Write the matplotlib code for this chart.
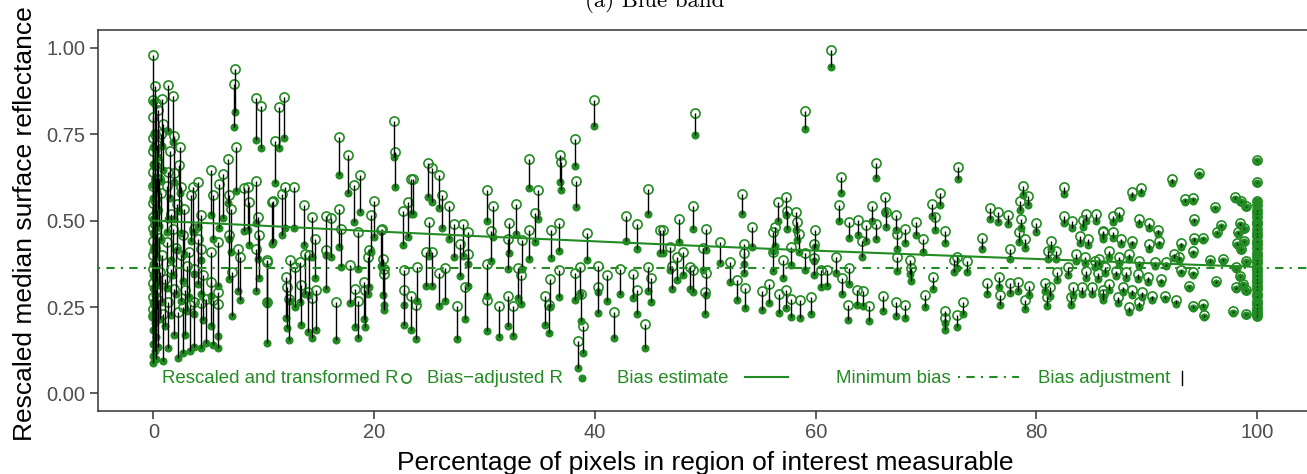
import matplotlib
matplotlib.use("Agg")
import matplotlib.pyplot as plt
import numpy as np

plt.rcParams['font.family'] = ['Liberation Sans', 'DejaVu Sans']

# ---------------- data ----------------
# x: percentage of pixels in ROI measurable
# res: rescaled and transformed R (open circles)
# adj: bias-adjusted R (filled circles)
pct_a = [0.0, 0.1, 0.0, 0.2, 0.0, 0.1, 0.0, 0.3, 0.0, 0.1,
         0.0, 0.2, 0.0, 0.1, 0.0, 0.3, 0.0, 0.1, 0.0, 0.2,
         0.0, 0.1, 0.0, 0.3, 0.0, 0.1, 0.0, 0.2, 0.0, 0.1,
         0.0, 0.2, 0.0, 0.4, 0.5, 0.5, 0.4, 0.6, 0.4]
res_a = [0.98, 0.89, 0.85, 0.84, 0.80, 0.75, 0.74, 0.72, 0.70, 0.66,
         0.64, 0.62, 0.60, 0.56, 0.55, 0.53, 0.51, 0.49, 0.48, 0.46,
         0.44, 0.42, 0.40, 0.38, 0.36, 0.34, 0.32, 0.30, 0.28, 0.26,
         0.245, 0.235, 0.225, 0.27, 0.62, 0.45, 0.82, 0.35, 0.67]
adj_a = [0.844, 0.754, 0.714, 0.704, 0.664, 0.614, 0.604, 0.584, 0.564, 0.524,
         0.504, 0.484, 0.464, 0.424, 0.414, 0.394, 0.374, 0.354, 0.344, 0.324,
         0.304, 0.284, 0.264, 0.244, 0.224, 0.204, 0.184, 0.164, 0.144, 0.124,
         0.109, 0.099, 0.089, 0.134, 0.484, 0.314, 0.684, 0.214, 0.534]

pct_b = [1.3, 1.8, 0.8, 1.9, 2.4, 7.35, 7.3, 9.3, 9.7, 7.5,
         6.75, 5.2, 6.3, 5.9, 4.0, 3.6, 9.25, 8.2, 8.6, 6.8,
         5.4, 1.3, 1.9, 2.5, 1.2, 3.4, 2.1, 2.8, 8.65, 9.5,
         10.7, 7.0, 4.3, 3.7, 4.0, 4.3, 2.7, 1.8, 1.2, 2.5,
         6.8, 5.85, 7.65, 9.6, 9.3, 5.2, 7.8, 10.3, 7.1, 5.2,
         5.8, 5.4, 3.7, 3.0, 4.5, 1.9, 1.3, 2.2, 2.7, 3.7,
         10.3, 4.8, 3.3, 4.3, 5.8, 0.9, 1.5, 0.7, 1.6, 0.8,
         1.0, 1.6, 0.9, 2.3, 2.0, 2.9, 3.2, 0.7]
res_b = [0.892, 0.860, 0.852, 0.746, 0.712, 0.939, 0.895, 0.854, 0.831, 0.712,
         0.677, 0.645, 0.635, 0.607, 0.611, 0.597, 0.616, 0.594, 0.597, 0.573,
         0.575, 0.640, 0.638, 0.597, 0.600, 0.573, 0.549, 0.534, 0.553, 0.510,
         0.553, 0.534, 0.515, 0.476, 0.448, 0.419, 0.457, 0.476, 0.438, 0.400,
         0.457, 0.438, 0.419, 0.457, 0.419, 0.409, 0.395, 0.380, 0.351, 0.322,
         0.292, 0.269, 0.361, 0.370, 0.342, 0.303, 0.265, 0.236, 0.250, 0.265,
         0.265, 0.274, 0.255, 0.262, 0.258, 0.78, 0.70, 0.58, 0.52, 0.40,
         0.33, 0.36, 0.23, 0.66, 0.42, 0.30, 0.41, 0.75]
adj_b = [0.758, 0.727, 0.717, 0.613, 0.579, 0.814, 0.770, 0.732, 0.709, 0.587,
         0.551, 0.517, 0.508, 0.480, 0.481, 0.466, 0.494, 0.470, 0.474, 0.447,
         0.447, 0.506, 0.505, 0.465, 0.466, 0.442, 0.416, 0.402, 0.430, 0.388,
         0.433, 0.409, 0.385, 0.345, 0.318, 0.289, 0.325, 0.343, 0.304, 0.267,
         0.331, 0.311, 0.295, 0.335, 0.297, 0.281, 0.271, 0.260, 0.225, 0.194,
         0.165, 0.141, 0.230, 0.238, 0.213, 0.170, 0.131, 0.103, 0.118, 0.134,
         0.145, 0.145, 0.124, 0.132, 0.131, 0.645, 0.566, 0.445, 0.386, 0.265,
         0.196, 0.226, 0.095, 0.527, 0.287, 0.168, 0.278, 0.615]

pct_c = [11.8, 11.4, 11.0, 16.8, 17.6, 18.7, 18.2, 20.0, 19.7, 20.7,
         11.9, 12.7, 10.8, 11.6, 13.6, 14.4, 15.6, 16.1, 16.8, 17.0,
         14.6, 15.6, 13.7, 14.05, 12.4, 10.3, 13.3, 12.8, 12.0, 14.7,
         17.8, 18.5, 19.1, 19.5, 18.3, 16.5, 18.5, 20.9, 20.9, 14.0,
         12.3, 14.4, 12.1, 13.4, 19.2]
res_c = [0.857, 0.828, 0.729, 0.741, 0.690, 0.632, 0.604, 0.558, 0.515, 0.476,
         0.597, 0.597, 0.558, 0.578, 0.544, 0.510, 0.512, 0.507, 0.534, 0.476,
         0.448, 0.414, 0.404, 0.400, 0.385, 0.385, 0.380, 0.366, 0.337, 0.298,
         0.372, 0.467, 0.322, 0.414, 0.301, 0.265, 0.268, 0.361, 0.345, 0.294,
         0.272, 0.276, 0.307, 0.313, 0.298]
adj_c = [0.739, 0.709, 0.610, 0.631, 0.581, 0.525, 0.496, 0.453, 0.410, 0.372,
         0.479, 0.480, 0.438, 0.459, 0.429, 0.396, 0.400, 0.396, 0.424, 0.366,
         0.334, 0.302, 0.289, 0.285, 0.268, 0.265, 0.264, 0.249, 0.219, 0.184,
         0.263, 0.359, 0.215, 0.308, 0.193, 0.154, 0.160, 0.257, 0.241, 0.179,
         0.154, 0.161, 0.189, 0.197, 0.191]

pct_d = [21.8, 21.9, 22.6, 23.1, 23.3, 23.5, 24.9, 25.2, 25.9, 26.1,
         26.8, 25.0, 27.2, 28.0, 28.5, 27.8, 28.5, 24.7, 25.2, 20.6,
         20.8, 19.4, 22.7, 23.9, 22.7, 23.3, 23.8, 25.9, 26.4, 27.5,
         28.2, 30.2, 30.8, 30.6, 30.2, 30.2, 32.2, 32.1, 32.8, 33.0,
         33.3, 32.1, 31.3, 32.6, 34.0, 34.8, 34.6, 34.0, 33.4, 36.0,
         36.7, 35.9, 35.5, 35.8, 36.7, 36.8, 36.9, 38.2, 38.3, 39.9,
         39.3, 38.2, 38.6, 38.7, 40.3, 40.3, 41.1, 41.7, 38.5, 38.9,
         42.8, 43.8, 44.8, 42.3, 43.4, 43.8, 44.5, 44.8, 45.1, 45.9]
res_d = [0.787, 0.699, 0.529, 0.553, 0.619, 0.619, 0.666, 0.652, 0.633, 0.575,
         0.541, 0.495, 0.489, 0.491, 0.466, 0.433, 0.402, 0.409, 0.409, 0.473,
         0.389, 0.394, 0.356, 0.367, 0.298, 0.283, 0.257, 0.348, 0.363, 0.252,
         0.307, 0.589, 0.542, 0.471, 0.373, 0.271, 0.492, 0.447, 0.548, 0.363,
         0.343, 0.281, 0.252, 0.252, 0.678, 0.589, 0.521, 0.473, 0.444, 0.473,
         0.493, 0.332, 0.281, 0.255, 0.358, 0.691, 0.669, 0.736, 0.616, 0.850,
         0.464, 0.348, 0.365, 0.288, 0.370, 0.309, 0.343, 0.235, 0.151, 0.194,
         0.513, 0.490, 0.590, 0.360, 0.346, 0.300, 0.200, 0.365, 0.334, 0.473]
adj_d = [0.684, 0.597, 0.428, 0.452, 0.519, 0.519, 0.568, 0.555, 0.537, 0.479,
         0.446, 0.398, 0.395, 0.398, 0.374, 0.340, 0.310, 0.311, 0.312, 0.369,
         0.286, 0.288, 0.255, 0.268, 0.197, 0.183, 0.158, 0.252, 0.268, 0.158,
         0.214, 0.499, 0.453, 0.382, 0.283, 0.181, 0.405, 0.360, 0.462, 0.277,
         0.258, 0.194, 0.164, 0.166, 0.594, 0.506, 0.438, 0.389, 0.359, 0.392,
         0.413, 0.251, 0.199, 0.174, 0.278, 0.611, 0.589, 0.658, 0.538, 0.774,
         0.387, 0.270, 0.287, 0.210, 0.294, 0.233, 0.268, 0.160, 0.073, 0.116,
         0.441, 0.419, 0.520, 0.288, 0.275, 0.229, 0.130, 0.295, 0.265, 0.405]

pct_e = [49.1, 48.9, 46.2, 47.6, 46.8, 48.0, 47.0, 47.4, 48.6, 48.9,
         50.1, 49.8, 50.1, 50.0, 51.3, 52.2, 52.9, 53.6, 53.3, 53.5,
         54.2, 53.5, 55.1, 55.8, 56.7, 57.3, 57.8, 58.6, 56.1, 56.3,
         56.1, 56.6, 57.3, 57.4, 58.2, 58.3, 58.5, 57.8, 57.0, 59.0,
         59.9, 59.8, 59.0, 59.8, 59.6, 60.5, 61.0, 61.8, 61.4, 62.3,
         62.1, 62.4, 63.0, 63.8, 63.0, 62.9, 63.7, 64.3, 64.2, 64.6,
         65.1, 65.5, 65.5, 66.3, 66.4, 64.8, 66.1, 67.3, 68.1, 67.3,
         67.4, 68.1, 69.1, 69.7, 67.4, 68.5, 68.6, 69.9, 70.6, 71.3,
         70.5, 70.8, 71.7, 71.7, 71.7, 72.8, 72.5, 72.9]
res_e = [0.810, 0.541, 0.473, 0.505, 0.425, 0.409, 0.370, 0.394, 0.365, 0.358,
         0.476, 0.421, 0.348, 0.293, 0.437, 0.380, 0.329, 0.306, 0.577, 0.431,
         0.481, 0.406, 0.296, 0.317, 0.288, 0.300, 0.274, 0.269, 0.466, 0.481,
         0.409, 0.553, 0.569, 0.529, 0.524, 0.495, 0.460, 0.423, 0.386, 0.816,
         0.473, 0.433, 0.406, 0.392, 0.279, 0.356, 0.358, 0.394, 0.993, 0.625,
         0.546, 0.334, 0.495, 0.502, 0.363, 0.257, 0.300, 0.296, 0.440, 0.486,
         0.541, 0.490, 0.666, 0.567, 0.524, 0.252, 0.281, 0.264, 0.257, 0.515,
         0.460, 0.476, 0.495, 0.447, 0.394, 0.385, 0.363, 0.286, 0.338, 0.579,
         0.548, 0.510, 0.471, 0.238, 0.219, 0.226, 0.386, 0.654]
adj_e = [0.747, 0.477, 0.406, 0.439, 0.358, 0.344, 0.303, 0.328, 0.301, 0.294,
         0.414, 0.358, 0.286, 0.231, 0.377, 0.321, 0.271, 0.248, 0.519, 0.373,
         0.424, 0.348, 0.240, 0.262, 0.234, 0.247, 0.222, 0.218, 0.412, 0.427,
         0.355, 0.499, 0.516, 0.476, 0.472, 0.443, 0.409, 0.371, 0.333, 0.766,
         0.424, 0.384, 0.356, 0.343, 0.230, 0.308, 0.310, 0.347, 0.945, 0.579,
         0.499, 0.288, 0.450, 0.458, 0.318, 0.212, 0.256, 0.252, 0.396, 0.442,
         0.498, 0.447, 0.623, 0.525, 0.482, 0.209, 0.239, 0.223, 0.217, 0.474,
         0.419, 0.436, 0.457, 0.410, 0.353, 0.346, 0.324, 0.249, 0.302, 0.544,
         0.512, 0.474, 0.436, 0.203, 0.184, 0.192, 0.352, 0.620]

pct_f = [73.3, 73.7, 72.8, 75.1, 75.8, 76.5, 77.4, 77.6, 78.8, 79.2,
         78.5, 78.6, 78.4, 79.0, 80.0, 75.5, 76.6, 76.7, 77.6, 78.3,
         79.3, 79.0, 80.8, 81.3, 81.0, 81.8, 81.2, 80.95, 82.5, 82.5,
         83.2, 82.9, 81.9, 83.3, 83.1, 84.1, 84.2, 85.4, 84.5, 83.9,
         84.7, 85.0, 86.0, 83.6, 84.4, 85.3, 86.0, 85.6, 84.5]
res_f = [0.264, 0.384, 0.396, 0.450, 0.536, 0.524, 0.517, 0.418, 0.601, 0.572,
         0.558, 0.505, 0.466, 0.447, 0.492, 0.319, 0.336, 0.286, 0.319, 0.322,
         0.312, 0.271, 0.319, 0.442, 0.413, 0.413, 0.307, 0.278, 0.598, 0.514,
         0.500, 0.365, 0.350, 0.307, 0.278, 0.307, 0.502, 0.519, 0.519, 0.454,
         0.447, 0.307, 0.298, 0.403, 0.396, 0.384, 0.466, 0.348, 0.355]
adj_f = [0.231, 0.351, 0.362, 0.419, 0.506, 0.495, 0.489, 0.390, 0.574, 0.546,
         0.531, 0.478, 0.439, 0.421, 0.467, 0.289, 0.307, 0.257, 0.291, 0.295,
         0.286, 0.245, 0.295, 0.418, 0.389, 0.390, 0.283, 0.254, 0.576, 0.492,
         0.479, 0.344, 0.327, 0.286, 0.257, 0.287, 0.482, 0.500, 0.500, 0.434,
         0.428, 0.288, 0.280, 0.383, 0.376, 0.365, 0.448, 0.330, 0.335]

pct_g = [92.3, 94.7, 88.7, 89.5, 93.5, 94.2, 96.2, 94.3, 96.7, 96.4,
         94.3, 95.1, 93.1, 94.2, 92.5, 92.9, 95.7, 96.9, 93.1, 94.2,
         93.8, 96.3, 94.2, 95.1, 95.2, 92.6, 87.5, 89.3, 90.2, 91.0,
         91.1, 90.2, 88.7, 86.9, 87.7, 86.0, 86.6, 87.5, 88.4, 89.3,
         90.7, 91.7, 86.2, 87.2, 88.1, 89.2, 90.1, 91.3, 86.6, 87.8,
         88.7, 89.6, 90.5, 91.6, 86.0, 87.4, 88.4, 89.3, 86.9, 85.7,
         98.0, 98.5, 99.0, 98.4, 98.3, 98.2, 98.5, 98.8, 98.1, 98.4,
         98.1, 98.7, 99.0, 99.0, 97.8, 99.0, 98.8]
res_g = [0.620, 0.639, 0.582, 0.594, 0.562, 0.565, 0.540, 0.505, 0.488, 0.466,
         0.450, 0.450, 0.434, 0.411, 0.403, 0.396, 0.386, 0.389, 0.357, 0.350,
         0.312, 0.326, 0.254, 0.259, 0.228, 0.270, 0.524, 0.505, 0.492, 0.473,
         0.442, 0.432, 0.442, 0.466, 0.447, 0.471, 0.413, 0.394, 0.403, 0.384,
         0.380, 0.380, 0.365, 0.355, 0.350, 0.346, 0.336, 0.331, 0.317, 0.307,
         0.298, 0.293, 0.283, 0.283, 0.288, 0.278, 0.250, 0.264, 0.514, 0.390,
         0.567, 0.558, 0.543, 0.492, 0.466, 0.434, 0.418, 0.442, 0.365, 0.341,
         0.307, 0.317, 0.298, 0.230, 0.238, 0.384, 0.480]
adj_g = [0.610, 0.631, 0.568, 0.580, 0.553, 0.557, 0.534, 0.497, 0.482, 0.460,
         0.442, 0.443, 0.425, 0.403, 0.393, 0.386, 0.379, 0.383, 0.348, 0.342,
         0.304, 0.320, 0.246, 0.251, 0.220, 0.260, 0.508, 0.491, 0.479, 0.461,
         0.430, 0.419, 0.428, 0.449, 0.431, 0.453, 0.396, 0.378, 0.388, 0.370,
         0.368, 0.369, 0.347, 0.339, 0.335, 0.332, 0.323, 0.319, 0.300, 0.292,
         0.284, 0.279, 0.271, 0.272, 0.270, 0.262, 0.235, 0.250, 0.497, 0.372,
         0.563, 0.554, 0.540, 0.488, 0.462, 0.430, 0.414, 0.439, 0.361, 0.337,
         0.303, 0.314, 0.295, 0.227, 0.233, 0.381, 0.477]

pct_h = [100.0, 100.0, 100.0, 100.0, 100.0, 100.0, 100.0, 100.0, 100.0, 100.0,
         100.0, 100.0, 100.0, 100.0, 100.0, 100.0, 100.0, 100.0, 100.0, 100.0,
         100.0, 100.0, 100.0, 100.0, 100.0, 100.0, 100.0, 100.0, 100.0, 100.0,
         100.0, 100.0, 100.0, 100.0]
res_h = [0.675, 0.611, 0.558, 0.546, 0.531, 0.522, 0.509, 0.497, 0.490, 0.476,
         0.463, 0.455, 0.441, 0.433, 0.420, 0.407, 0.399, 0.386, 0.377, 0.362,
         0.354, 0.343, 0.331, 0.322, 0.311, 0.302, 0.289, 0.281, 0.268, 0.259,
         0.247, 0.238, 0.229, 0.224]
adj_h = [0.673, 0.609, 0.556, 0.544, 0.529, 0.520, 0.507, 0.495, 0.488, 0.474,
         0.461, 0.453, 0.439, 0.431, 0.418, 0.405, 0.397, 0.384, 0.375, 0.360,
         0.352, 0.341, 0.329, 0.320, 0.309, 0.300, 0.287, 0.279, 0.266, 0.257,
         0.245, 0.236, 0.227, 0.222]

# bias estimate curve and minimum bias
bias_pct = [0, 10, 20, 30, 40, 50, 60, 70, 80, 90, 100]
bias_est = [0.500, 0.485, 0.469, 0.454, 0.440, 0.426, 0.413, 0.401, 0.389, 0.377, 0.366]
min_bias = 0.364

x_ticks = [0, 20, 40, 60, 80, 100]
y_ticks = [0.00, 0.25, 0.50, 0.75, 1.00]
y_tick_labels = ["0.00", "0.25", "0.50", "0.75", "1.00"]

# ---------------- plotting ----------------
GREEN = '#228B22'
W, H = 1307, 474
OPEN_MS, OPEN_MEW = 6.6, 1.2
FILL_MS, FILL_MEW = 5.0, 0.8
fig = plt.figure(figsize=(W / 100, H / 100), dpi=100)
left, right, top, bottom = 98.3, 1312.4, 30.5, 410.7
ax = fig.add_axes([left / W, 1 - bottom / H, (right - left) / W, (bottom - top) / H])

pct = np.concatenate([pct_a, pct_b, pct_c, pct_d, pct_e, pct_f, pct_g, pct_h])
res = np.concatenate([res_a, res_b, res_c, res_d, res_e, res_f, res_g, res_h])
adj = np.concatenate([adj_a, adj_b, adj_c, adj_d, adj_e, adj_f, adj_g, adj_h])

ax.plot(pct, res, ls='none', marker='o', mfc='none', mec=GREEN, ms=OPEN_MS, mew=OPEN_MEW, zorder=2)
ax.plot(pct, adj, ls='none', marker='o', mfc=GREEN, mec=GREEN, ms=FILL_MS, mew=FILL_MEW, zorder=3)
ax.vlines(pct, adj, res, colors='black', lw=1.0, zorder=4)
ax.plot(bias_pct, bias_est, color=GREEN, lw=1.5, zorder=5)
ax.axhline(min_bias, color=GREEN, lw=1.5, dashes=(1, 3, 4, 3), zorder=5)

ax.set_xlim(-5, 105)
ax.set_ylim(-0.05, 1.05)
ax.set_xticks(x_ticks)
ax.set_xticklabels([str(v) for v in x_ticks])
ax.set_yticks(y_ticks)
ax.set_yticklabels(y_tick_labels)
for s in ax.spines.values():
    s.set_color('#333333')
    s.set_linewidth(1.1)
ax.tick_params(direction='out', length=5.5, width=1.1, color='#333333',
               labelcolor='#4D4D4D', labelsize=14.5)
ax.tick_params(axis='x', pad=3)
ax.tick_params(axis='y', pad=4)

# in-panel legend (text annotations)
ly = 0.044
lfs = 13.4
ax.text(0.75, ly, "Rescaled and transformed R", color=GREEN, fontsize=lfs, ha='left', va='center')
ax.plot([22.9], [ly], ls='none', marker='o', mfc='none', mec=GREEN, ms=OPEN_MS, mew=OPEN_MEW)
ax.text(24.8, ly, "Bias\u2212adjusted R", color=GREEN, fontsize=lfs, ha='left', va='center')
ax.plot([38.8], [ly], ls='none', marker='o', mfc=GREEN, mec=GREEN, ms=FILL_MS, mew=FILL_MEW)
ax.text(42.0, ly, "Bias estimate", color=GREEN, fontsize=lfs, ha='left', va='center')
ax.plot([53.6, 57.5], [ly + 0.004, ly + 0.004], color=GREEN, lw=1.5)
ax.text(61.8, ly, "Minimum bias", color=GREEN, fontsize=lfs, ha='left', va='center')
ax.plot([72.9, 78.4], [ly + 0.004, ly + 0.004], color=GREEN, lw=1.5, dashes=(1, 3, 4, 3))
ax.text(80.1, ly, "Bias adjustment", color=GREEN, fontsize=lfs, ha='left', va='center')
ax.plot([93.2, 93.2], [0.023, 0.066], color='black', lw=1.0)

# axis titles and (cropped) figure title
fig.text(705 / W, 1 - 470 / H, "Percentage of pixels in region of interest measurable",
         fontsize=19, ha='center', va='baseline')
fig.text(32 / W, 1 - 224 / H, "Rescaled median surface reflectance", fontsize=19,
         rotation=90, rotation_mode='anchor', ha='center', va='baseline')
fig.text(655 / W, 1 - 7.3 / H, "(a) Blue band", family=['cmr10', 'DejaVu Serif'],
         fontsize=16.5, ha='center', va='baseline')

fig.savefig("out.png", dpi=100)
